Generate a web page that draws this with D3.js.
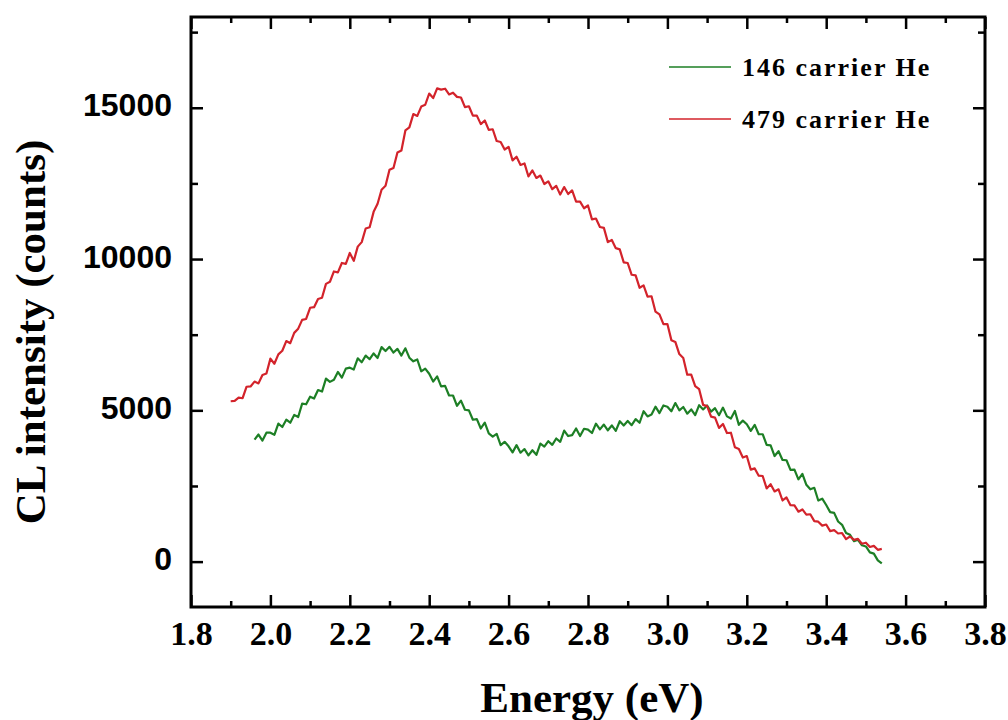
<!DOCTYPE html>
<html>
<head>
<meta charset="utf-8">
<script src="https://cdn.jsdelivr.net/npm/d3@7"></script>
<style>
  body { margin: 0; background: #fff; }
  svg { display: block; }
</style>
</head>
<body>
<div id="chart"></div>
<script>
// CL spectra, counts read every 0.01 eV
var step = 0.01;
var greenStart = 1.96;
var redStart = 1.90;

var green146 = [4030,4200,4000,4260,
  4260,4190,4560,4450,4690,4590,4850,4780,5220,5200,
  5450,5390,5670,5620,6050,5940,6010,6270,6080,6380,
  6410,6350,6720,6590,6810,6690,6880,6730,7090,6960,
  7100,6910,7030,6810,7050,6740,6620,6680,6290,6380,
  6210,5950,6120,5790,5810,5490,5490,5150,5320,5020,
  5000,4690,4710,4400,4590,4240,4130,4220,3850,3960,
  3810,3610,3850,3600,3720,3510,3680,3530,3900,3800,
  3980,3860,4070,3960,4330,4150,4180,4400,4150,4390,
  4360,4250,4560,4370,4530,4340,4500,4320,4640,4500,
  4650,4510,4710,4590,4970,4800,4860,5120,4910,5160,
  5120,4970,5240,5000,5110,4890,5030,4840,5170,5030,
  5160,4960,5070,4840,5090,4800,4730,4980,4520,4660,
  4540,4320,4520,4210,4210,3860,3840,3490,3650,3360,
  3350,3030,3040,2720,2900,2540,2390,2440,2020,2080,
  1870,1635,1610,1325,1215,945,885,675,720,540,
  500,305,265,40,-60];

var red479 = [5300,5310,5420,5400,5780,5790,5950,5890,6170,6220,
  6710,6540,6850,6970,7290,7220,7560,7700,7990,8020,
  8390,8410,8680,8720,9180,9250,9590,9560,9870,9840,
  10200,9940,10410,10560,11010,11050,11560,11830,12290,12420,
  12950,13010,13520,13590,14250,14350,14790,14730,15040,15100,
  15470,15320,15640,15600,15630,15440,15500,15360,15340,15020,
  15050,14740,14740,14460,14580,14270,14290,13900,13870,13620,
  13710,13260,13380,13110,13160,12730,12930,12680,12760,12480,
  12570,12310,12420,12130,12380,12150,12270,11900,11900,11680,
  11770,11310,11340,11060,11030,10560,10630,10360,10320,9890,
  9870,9480,9460,9050,9130,8760,8770,8260,8170,7850,
  7850,7320,7260,6860,6730,6180,6180,5800,5700,5180,
  5140,4790,4760,4420,4550,4250,4260,3780,3720,3440,
  3490,3040,3080,2840,2830,2420,2560,2320,2390,2020,
  2120,1865,1860,1650,1725,1555,1565,1340,1320,1190,
  1225,1010,1040,930,945,745,830,720,750,590,
  625,485,520,390,420];

var xMajor = [1.8,2.0,2.2,2.4,2.6,2.8,3.0,3.2,3.4,3.6,3.8];
var xMinor = [1.9,2.1,2.3,2.5,2.7,2.9,3.1,3.3,3.5,3.7];
var yMajor = [0,5000,10000,15000];
var yMinor = [2500,7500,12500,17500];
var seriesNames = ["146 carrier He","479 carrier He"];
var seriesColors = ["#1d7f25","#d3232b"];

var width = 1008, height = 720;
var plotL = 191, plotR = 985, plotT = 17, plotB = 607;

var x = d3.scaleLinear().domain([1.8, 3.8]).range([plotL, plotR]);
var y = d3.scaleLinear().domain([-1500, 18000]).range([plotB, plotT]);

var svg = d3.select("#chart").append("svg")
  .attr("width", width)
  .attr("height", height);

var serif = "'Liberation Serif','Times New Roman',serif";
var sans = "'Liberation Sans',Arial,sans-serif";

//axes, ticks pointing inside
function styleAxis(g) {
  g.select(".domain").remove();
  g.selectAll(".tick line").attr("stroke", "#000").attr("stroke-width", 2.5);
}

svg.append("g").attr("transform", "translate(0," + plotB + ")")
  .call(d3.axisBottom(x).tickValues(xMajor).tickSize(-12).tickPadding(14).tickFormat(d3.format(".1f")))
  .call(styleAxis)
  .call(function(g) {
    g.selectAll("text").attr("font-family", serif).attr("font-size", 34)
      .attr("font-weight", "bold").attr("fill", "#000");
  });
svg.append("g").attr("transform", "translate(0," + plotB + ")")
  .call(d3.axisBottom(x).tickValues(xMinor).tickSize(-6).tickFormat(""))
  .call(styleAxis);
svg.append("g").attr("transform", "translate(0," + plotT + ")")
  .call(d3.axisTop(x).tickValues(xMajor).tickSize(-12).tickFormat(""))
  .call(styleAxis);
svg.append("g").attr("transform", "translate(0," + plotT + ")")
  .call(d3.axisTop(x).tickValues(xMinor).tickSize(-6).tickFormat(""))
  .call(styleAxis);

svg.append("g").attr("transform", "translate(" + plotL + ",0)")
  .call(d3.axisLeft(y).tickValues(yMajor).tickSize(-12).tickPadding(19).tickFormat(d3.format("d")))
  .call(styleAxis)
  .call(function(g) {
    g.selectAll("text").attr("font-family", sans).attr("font-size", 32)
      .attr("font-weight", "bold").attr("fill", "#000").attr("dy", "0.25em");
  });
svg.append("g").attr("transform", "translate(" + plotL + ",0)")
  .call(d3.axisLeft(y).tickValues(yMinor).tickSize(-7).tickFormat(""))
  .call(styleAxis);
svg.append("g").attr("transform", "translate(" + plotR + ",0)")
  .call(d3.axisRight(y).tickValues(yMajor).tickSize(-12).tickFormat(""))
  .call(styleAxis);
svg.append("g").attr("transform", "translate(" + plotR + ",0)")
  .call(d3.axisRight(y).tickValues(yMinor).tickSize(-7).tickFormat(""))
  .call(styleAxis);

// spectra
var series = [
  {name: seriesNames[0], start: greenStart, values: green146, color: seriesColors[0]},
  {name: seriesNames[1], start: redStart, values: red479, color: seriesColors[1]}
];

var line = function(s) {
  return d3.line()
    .x(function(d, i) { return x(s.start + i * step); })
    .y(function(d) { return y(d); })(s.values);
};

svg.selectAll("path.spec")
  .data(series)
  .enter()
  .append("path")
  .attr("class", "spec")
  .attr("d", line)
  .attr("fill", "none")
  .attr("stroke", function(d) { return d.color; })
  .attr("stroke-width", 2.2)
  .attr("stroke-linejoin", "round");

// frame
svg.append("rect")
  .attr("x", plotL).attr("y", plotT)
  .attr("width", plotR - plotL).attr("height", plotB - plotT)
  .attr("fill", "none").attr("stroke", "#000").attr("stroke-width", 3);

// legend
var leg = svg.selectAll("g.leg")
  .data(series)
  .enter()
  .append("g")
  .attr("class", "leg")
  .attr("transform", function(d, i) { return "translate(669," + (67 + i * 52) + ")"; });
leg.append("line")
  .attr("x1", 0).attr("x2", 62)
  .attr("stroke", function(d) { return d.color; })
  .attr("stroke-width", 1.5);
leg.append("text")
  .attr("x", 73).attr("y", 9)
  .attr("font-family", serif).attr("font-size", 26).attr("font-weight", "bold")
  .attr("letter-spacing", "2px")
  .text(function(d) { return d.name; });

// axis titles
svg.append("text")
  .attr("x", 592).attr("y", 712)
  .attr("text-anchor", "middle")
  .attr("font-family", serif).attr("font-size", 43).attr("font-weight", "bold")
  .text("Energy (eV)");

svg.append("text")
  .attr("transform", "translate(45,332) rotate(-90)")
  .attr("text-anchor", "middle")
  .attr("font-family", serif).attr("font-size", 43).attr("font-weight", "bold")
  .text("CL intensity (counts)");
</script>
</body>
</html>
